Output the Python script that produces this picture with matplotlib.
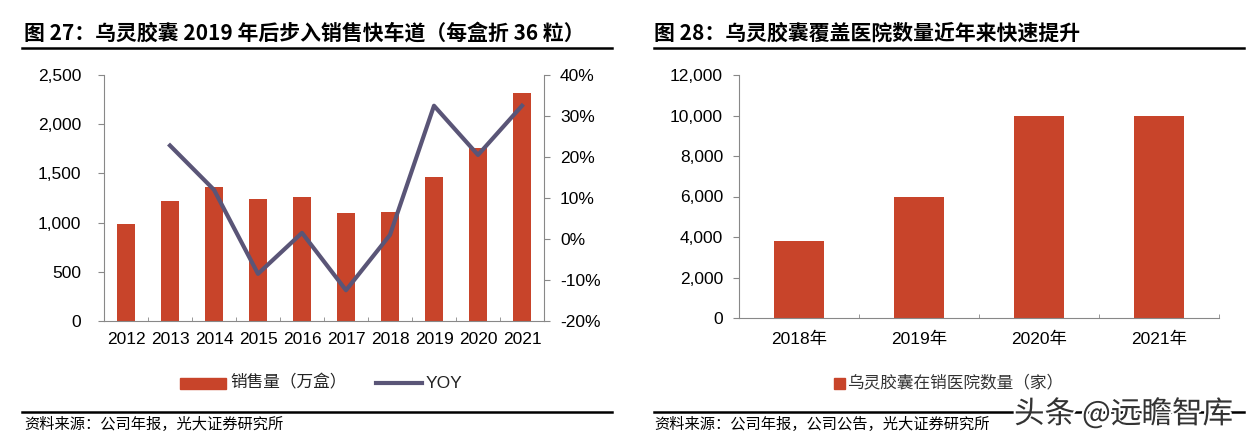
import matplotlib
matplotlib.use("Agg")
import matplotlib.pyplot as plt
from matplotlib.lines import Line2D
import matplotlib.patheffects as pe
import numpy as np

plt.rcParams['font.family'] = ['Liberation Sans', 'Noto Sans CJK SC', 'DejaVu Sans']

# ---- data ----
years_left = ['2012', '2013', '2014', '2015', '2016', '2017', '2018', '2019', '2020', '2021']
sales = [990, 1215, 1360, 1240, 1265, 1100, 1110, 1465, 1760, 2320]
yoy = [np.nan, 22.8, 12.0, -8.5, 1.5, -12.5, 1.0, 32.5, 20.5, 32.5]

years_right = ['2018年', '2019年', '2020年', '2021年']
hospitals = [3800, 6000, 10000, 10000]

title_left = '图 27：乌灵胶囊 2019 年后步入销售快车道（每盒折 36 粒）'
title_right = '图 28：乌灵胶囊覆盖医院数量近年来快速提升'
legend_bar_left = '销售量（万盒）'
legend_line_left = 'YOY'
legend_right = '乌灵胶囊在销医院数量（家）'
source_left = '资料来源：公司年报，光大证券研究所'
source_right = '资料来源：公司年报，公司公告，光大证券研究所'

BAR = '#C8442A'
LINE = '#5A5577'
AX = '#888888'
W, H = 1259, 443
TICK_FS = 12.5

fig = plt.figure(figsize=(W / 100, H / 100), dpi=100)

def fx(x):
    return x / W

def fy(y):
    return 1 - y / H

cjk = ['Noto Sans CJK SC', 'DejaVu Sans']

# titles and rules
fig.text(fx(24), fy(33), title_left, fontsize=15, fontweight='bold', family=cjk, va='center', ha='left')
fig.text(fx(654), fy(33), title_right, fontsize=15, fontweight='bold', family=cjk, va='center', ha='left')
for x0, x1 in [(22, 612), (654, 1244)]:
    fig.add_artist(Line2D([fx(x0), fx(x1)], [fy(48), fy(48)], color='black', lw=1.8))
    fig.add_artist(Line2D([fx(x0), fx(x1)], [fy(412), fy(412)], color='black', lw=1.8))
fig.text(fx(24), fy(424), source_left, fontsize=11, family=cjk, va='center', ha='left')
fig.text(fx(654), fy(424), source_right, fontsize=11, family=cjk, va='center', ha='left')

# ---- left chart ----
axL = fig.add_axes([fx(104), fy(321), fx(544 - 104), fy(75) - fy(321)])
x = np.arange(len(years_left))
axL.bar(x, sales, width=0.42, color=BAR, zorder=2)
axL.set_xlim(-0.5, len(years_left) - 0.5)
axL.set_ylim(0, 2500)
axL.set_yticks(np.arange(0, 2501, 500))
axL.set_yticklabels([f'{v:,}' for v in range(0, 2501, 500)])
axL.set_xticks(x)
axL.set_xticklabels(years_left)
axL.set_xticks(np.arange(-0.5, len(years_left)), minor=True)
axL.tick_params(axis='x', which='major', length=0, pad=8, labelsize=TICK_FS)
axL.tick_params(axis='x', which='minor', length=3, direction='in', color=AX)
axL.tick_params(axis='y', length=4, color=AX, labelsize=TICK_FS, pad=12.5)
for s in ['top', 'right']:
    axL.spines[s].set_visible(False)
for s in ['left', 'bottom']:
    axL.spines[s].set_color(AX)

axR = axL.twinx()
axR.plot(x, yoy, color=LINE, lw=3, zorder=3)
axR.set_ylim(-20, 40)
axR.set_yticks(np.arange(-20, 41, 10))
axR.set_yticklabels([f'{v}%' for v in range(-20, 41, 10)])
axR.tick_params(axis='y', length=4, color=AX, labelsize=TICK_FS, pad=7.5)
for s in ['top', 'left', 'bottom']:
    axR.spines[s].set_visible(False)
axR.spines['right'].set_color(AX)

# left legend
fig.add_artist(plt.Rectangle((fx(180), fy(389)), fx(46), fy(378) - fy(389), color=BAR))
fig.text(fx(230), fy(383), legend_bar_left, fontsize=12, family=cjk, va='center', ha='left', color='#222222')
fig.add_artist(Line2D([fx(376), fx(422)], [fy(383), fy(383)], color=LINE, lw=3))
fig.text(fx(426), fy(383), legend_line_left, fontsize=12.5, va='center', ha='left', color='#222222')

# ---- right chart ----
ax2 = fig.add_axes([fx(739), fy(318), fx(1219 - 739), fy(75) - fy(318)])
x2 = np.arange(len(years_right))
ax2.bar(x2, hospitals, width=0.41, color=BAR, zorder=2)
ax2.set_xlim(-0.5, len(years_right) - 0.5)
ax2.set_ylim(0, 12000)
ax2.set_yticks(np.arange(0, 12001, 2000))
ax2.set_yticklabels([f'{v:,}' for v in range(0, 12001, 2000)])
ax2.set_xticks(x2)
ax2.set_xticklabels(years_right, family=['Liberation Sans', 'Noto Sans CJK SC'])
ax2.set_xticks(np.arange(-0.5, len(years_right)), minor=True)
ax2.tick_params(axis='x', which='major', length=0, pad=10, labelsize=TICK_FS)
ax2.tick_params(axis='x', which='minor', length=3, direction='in', color=AX)
ax2.tick_params(axis='y', length=4, color=AX, labelsize=TICK_FS, pad=7.5)
for s in ['top', 'right']:
    ax2.spines[s].set_visible(False)
for s in ['left', 'bottom']:
    ax2.spines[s].set_color(AX)

fig.add_artist(plt.Rectangle((fx(834), fy(389)), fx(11), fy(378) - fy(389), color=BAR))
fig.text(fx(847), fy(383), legend_right, fontsize=12, family=cjk, va='center', ha='left', color='#333333')

# watermark
fig.text(fx(1014), fy(414), '头条 @远瞻智库', fontsize=22, family=cjk, va='center', ha='left',
         color='#333333', path_effects=[pe.withStroke(linewidth=3, foreground='white')])

fig.savefig('out.png', dpi=100)
